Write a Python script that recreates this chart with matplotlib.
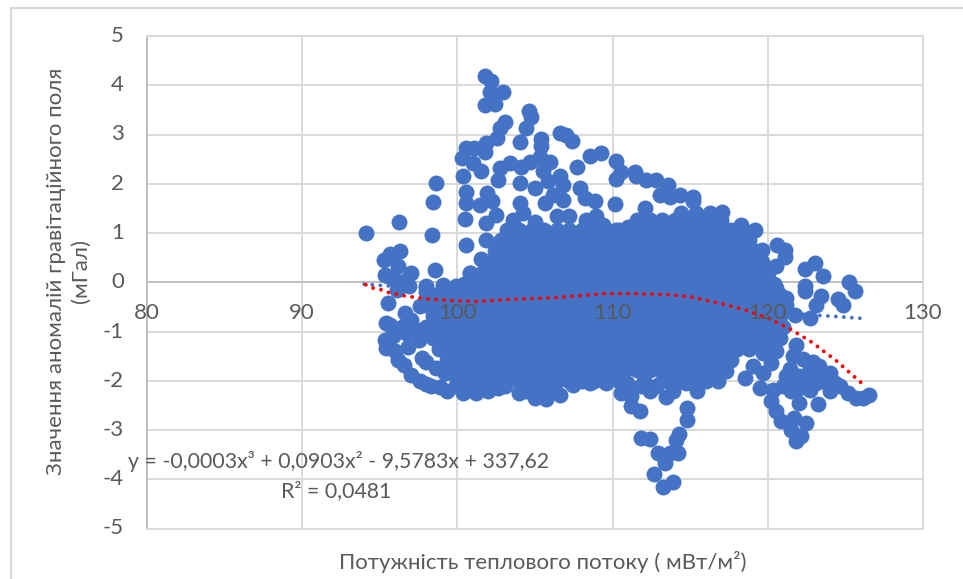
import matplotlib
matplotlib.use('Agg')
import matplotlib.pyplot as plt
from matplotlib.lines import Line2D

plt.rcParams['font.family'] = ['Lato', 'Open Sans', 'DejaVu Sans']

BLUE = '#4472c4'
TEXT = '#595959'
GRID = '#d9d9d9'

# sparse points above the main cloud
top_pts = [
    (94.1, 1.0), (101.81, 4.18), (102.19, 4.09), (102.94, 3.86), (102.09, 3.86), (101.76, 3.60), (102.41, 3.61),
    (104.62, 3.47), (104.77, 3.36), (104.45, 3.13), (103.09, 3.26), (102.73, 3.13), (102.52, 2.92),
    (101.87, 2.82), (101.81, 2.65), (105.41, 2.90), (105.37, 2.76), (104.02, 2.84), (106.6, 3.03),
    (107.0, 3.0), (107.41, 2.87), (100.58, 2.72), (101.1, 2.73), (100.3, 2.53), (100.33, 2.15),
    (101.0, 2.42), (101.55, 2.25), (102.73, 2.31), (102.62, 2.08), (103.37, 2.42), (104.12, 2.35),
    (104.66, 2.45), (105.3, 2.55), (105.95, 2.45), (105.52, 2.25), (106.6, 2.16), (104.02, 2.01),
    (104.98, 1.91), (105.84, 2.05), (106.8, 1.98), (107.73, 2.34), (108.52, 2.57), (109.27, 2.62),
    (110.2, 2.47), (110.52, 2.23), (110.2, 2.09), (111.42, 2.23), (98.61, 2.02), (98.46, 1.63),
    (100.54, 1.84), (100.54, 1.61), (101.91, 1.82), (102.26, 1.64), (101.44, 1.57), (100.52, 1.29),
    (102.5, 1.37), (101.87, 1.21), (104.02, 1.6), (107.88, 1.91), (108.2, 1.71), (108.85, 1.64),
    (106.8, 1.67), (105.63, 1.6), (106.16, 1.77), (110.13, 1.59), (104.23, 1.4), (96.21, 1.23),
    (98.37, 0.96), (100.58, 0.75), (101.83, 0.86), (96.29, 0.64), (95.65, 0.58), (95.28, 0.46),
    (96.18, 0.32), (97.04, 0.19), (95.33, 0.15), (98.55, 0.25), (101.55, 0.47), (100.8, 0.19),
    (95.97, 0.05), (96.72, 0.05), (103.6, 1.27), (105.0, 1.23), (106.4, 1.34), (107.2, 1.34),
    (108.3, 1.27), (108.95, 1.34), (109.4, 1.17), (110.2, 1.06), (111.0, 1.13), (111.53, 2.15),
    (112.17, 2.08), (112.82, 2.08), (113.57, 1.98), (113.03, 1.77), (113.68, 1.74), (114.32, 1.77),
    (115.18, 1.74), (115.18, 1.64), (112.07, 1.5), (114.43, 1.40), (115.39, 1.40), (116.25, 1.40),
    (117.07, 1.42), (118.29, 1.17), (119.15, 1.07), (118.6, 0.93),
]

# right edge, upper side
right_pts = [
    (119.62, 0.65), (120.6, 0.76), (121.08, 0.66), (121.14, 0.51), (120.54, 0.32), (122.37, 0.27),
    (123.07, 0.39), (123.55, 0.13), (125.2, 0.0), (125.65, -0.17), (122.37, -0.08), (122.37, -0.17),
    (123.44, -0.27), (123.12, -0.47), (124.51, -0.35), (124.83, -0.46), (122.69, -0.73), (121.77, -0.66),
    (121.19, -0.32), (120.54, -0.12),
]

# tail running down to the right and the pocket under it
tail_pts = [
    (126.55, -2.28), (126.12, -2.35), (125.69, -2.35), (125.16, -2.25), (124.62, -2.11), (123.98, -1.84),
    (123.33, -1.71), (122.9, -1.61), (121.83, -1.27), (121.61, -1.5), (121.4, -1.77), (121.19, -1.91),
    (122.04, -1.9), (123.1, -2.05), (123.98, -2.21), (122.69, -2.18), (123.22, -2.47), (122.04, -2.46),
    (120.97, -2.11), (120.33, -2.18), (119.47, -2.15), (120.22, -2.42), (120.54, -2.62), (120.86, -2.82),
    (121.72, -2.75), (122.47, -2.86), (121.51, -2.99), (122.15, -3.13), (121.83, -3.23), (118.5, -1.94),
    (119.04, -1.71), (119.68, -1.84), (120.22, -1.64), (120.54, -1.40), (119.68, -1.44), (122.3, -1.55),
    (122.5, -1.9), (123.5, -2.0), (124.3, -2.05), (122.0, -2.15), (121.5, -2.2), (122.7, -1.75),
    (123.3, -1.95), (124.0, -2.0), (121.3, -2.1),
]

# lower edge of the cloud and the group near -3..-4
bottom_pts = [
    (117.32, -1.81), (116.79, -2.01), (115.46, -2.21), (113.89, -2.21), (113.46, -2.32), (112.39, -2.21),
    (111.74, -2.62), (111.21, -2.52), (114.8, -2.55), (114.8, -2.79), (114.28, -3.09), (114.1, -3.2),
    (111.85, -3.16), (112.43, -3.18), (112.92, -3.46), (113.68, -3.46), (114.2, -3.46), (112.65, -3.9),
    (113.27, -4.15), (113.87, -4.06), (113.35, -3.67), (95.54, 0.12), (95.54, -0.42), (95.43, -0.83),
    (95.33, -1.17), (95.43, -1.34), (96.19, -1.57), (96.83, -1.31), (97.69, -1.54), (97.04, -1.88),
    (97.58, -2.01), (98.33, -2.11), (99.3, -2.21), (100.37, -2.25), (101.23, -2.25), (101.98, -2.21),
    (103.05, -2.11), (103.98, -2.25), (104.98, -2.35), (105.73, -2.38), (106.59, -2.28), (107.45, -2.08),
    (108.52, -2.05), (109.6, -2.05), (110.56, -2.25), (111.2, -2.3), (112.8, -2.1), (114.7, -2.05),
    (98.0, -0.08), (99.08, -0.05), (99.94, -0.08), (95.9, -0.95), (104.4, -2.2), (105.4, -2.2),
    (106.1, -2.2), (100.8, -2.15), (102.6, -2.15), (111.8, -2.1), (110.9, -2.05), (113.2, -2.0),
]

# left side of the cloud, where the white strips run between the points
left_pts = [
    (96.08, -0.15), (96.9, -0.08), (97.58, -0.49), (98.0, -0.2), (96.6, -0.63), (97.04, -0.76),
    (95.65, -0.86), (96.4, -0.9), (97.4, -0.96), (95.86, -1.1), (96.7, -1.03), (95.97, -1.4),
    (98.65, -1.74), (97.5, -1.17), (98.2, -1.05), (98.0, -1.62), (99.2, -1.85), (96.55, -1.68),
    (98.9, -2.12), (98.0, -2.06), (99.9, -2.1),
]

# dense body of the cloud: y of each band, then its x values
core_y = [1.27, 1.07, 0.85, 0.63, 0.41, 0.19, -0.03, -0.25, -0.47, -0.69, -0.91, -1.13, -1.35, -1.57, -1.79, -2.01]
core_x = [
    [111.6, 112.4, 113.2, 114.0, 114.8, 115.6, 116.4, 117.0],
    [103.2, 104.0, 104.8, 105.6, 106.4, 107.2, 108.0, 108.8, 109.6, 110.4, 111.2, 112.0, 112.8, 113.6, 114.4, 115.2,
     116.0, 116.8, 117.6, 118.4],
    [102.8, 103.6, 104.4, 105.2, 106.0, 106.8, 107.6, 108.4, 109.2, 110.0, 110.8, 111.6, 112.4, 113.2, 114.0, 114.8,
     115.6, 116.4, 117.2, 118.0, 118.8],
    [102.4, 103.2, 104.0, 104.8, 105.6, 106.4, 107.2, 108.0, 108.8, 109.6, 110.4, 111.2, 112.0, 112.8, 113.6, 114.4,
     115.2, 116.0, 116.8, 117.6, 118.4, 119.2],
    [102.0, 102.8, 103.6, 104.4, 105.2, 106.0, 106.8, 107.6, 108.4, 109.2, 110.0, 110.8, 111.6, 112.4, 113.2, 114.0,
     114.8, 115.6, 116.4, 117.2, 118.0, 118.8, 119.6],
    [100.8, 101.6, 102.4, 103.2, 104.0, 104.8, 105.6, 106.4, 107.2, 108.0, 108.8, 109.6, 110.4, 111.2, 112.0, 112.8,
     113.6, 114.4, 115.2, 116.0, 116.8, 117.6, 118.4, 119.2, 120.0],
    [100.4, 101.2, 102.0, 102.8, 103.6, 104.4, 105.2, 106.0, 106.8, 107.6, 108.4, 109.2, 110.0, 110.8, 111.6, 112.4,
     113.2, 114.0, 114.8, 115.6, 116.4, 117.2, 118.0, 118.8, 119.6, 120.4],
    [98.4, 99.2, 100.0, 100.8, 101.6, 102.4, 103.2, 104.0, 104.8, 105.6, 106.4, 107.2, 108.0, 108.8, 109.6, 110.4,
     111.2, 112.0, 112.8, 113.6, 114.4, 115.2, 116.0, 116.8, 117.6, 118.4, 119.2, 120.0, 120.8],
    [98.0, 98.8, 99.6, 100.4, 101.2, 102.0, 102.8, 103.6, 104.4, 105.2, 106.0, 106.8, 107.6, 108.4, 109.2, 110.0,
     110.8, 111.6, 112.4, 113.2, 114.0, 114.8, 115.6, 116.4, 117.2, 118.0, 118.8, 119.6, 120.4, 121.2],
    [98.4, 99.2, 100.0, 100.8, 101.6, 102.4, 103.2, 104.0, 104.8, 105.6, 106.4, 107.2, 108.0, 108.8, 109.6, 110.4,
     111.2, 112.0, 112.8, 113.6, 114.4, 115.2, 116.0, 116.8, 117.6, 118.4, 119.2, 120.0, 120.8],
    [98.0, 98.8, 99.6, 100.4, 101.2, 102.0, 102.8, 103.6, 104.4, 105.2, 106.0, 106.8, 107.6, 108.4, 109.2, 110.0,
     110.8, 111.6, 112.4, 113.2, 114.0, 114.8, 115.6, 116.4, 117.2, 118.0, 118.8, 119.6, 120.4, 121.0],
    [98.4, 99.2, 100.0, 100.8, 101.6, 102.4, 103.2, 104.0, 104.8, 105.6, 106.4, 107.2, 108.0, 108.8, 109.6, 110.4,
     111.2, 112.0, 112.8, 113.6, 114.4, 115.2, 116.0, 116.8, 117.6, 118.4, 119.2, 120.0, 120.8],
    [98.8, 99.6, 100.4, 101.2, 102.0, 102.8, 103.6, 104.4, 105.2, 106.0, 106.8, 107.6, 108.4, 109.2, 110.0, 110.8,
     111.6, 112.4, 113.2, 114.0, 114.8, 115.6, 116.4, 117.2, 118.0, 118.8, 119.6, 120.4],
    [99.3, 100.0, 100.8, 101.6, 102.4, 103.2, 104.0, 104.8, 105.6, 106.4, 107.2, 108.0, 108.8, 109.6, 110.4, 111.2,
     112.0, 112.8, 113.6, 114.4, 115.2, 116.0, 116.8, 117.6],
    [99.8, 100.4, 101.2, 102.0, 102.8, 103.6, 104.4, 105.2, 106.0, 106.8, 107.6, 108.4, 109.2, 110.0, 110.8, 111.6,
     112.4, 113.2, 114.0, 114.8, 115.6, 116.4],
    [100.0, 100.8, 101.6, 102.4, 103.2, 104.0, 104.8, 105.6, 106.4, 107.2, 108.0, 108.8, 109.6, 110.4, 112.0, 113.6,
     114.4, 115.4, 116.0],
]

# blue dotted trend, only its ends show past the cloud
linear_x = [94.0, 126.4]
linear_y = [-0.04, -0.74]

# red dotted polynomial trend
poly_x = [94.1, 94.58, 95.07, 95.58, 96.5, 97.58, 98.1, 99.5, 101.2, 103.37, 106.4, 109.5, 111.53,
          113.57, 115.07, 117.1, 118.6, 120.1, 121.5, 122.8, 124.4, 126.34]
poly_y = [-0.05, -0.12, -0.15, -0.21, -0.27, -0.32, -0.34, -0.37, -0.39, -0.35, -0.31, -0.23, -0.233,
          -0.25, -0.30, -0.44, -0.57, -0.74, -0.96, -1.21, -1.59, -2.13]

x_ticks = [80, 90, 100, 110, 120, 130]
y_ticks = [-5, -4, -3, -2, -1, 0, 1, 2, 3, 4, 5]

fig = plt.figure(figsize=(9.63, 5.79), dpi=100)

# chart frame, only its left and top edges are inside the crop
fig.add_artist(Line2D([11 / 963, 11 / 963], [0, 1 - 7.5 / 579], color=GRID, lw=1.6))
fig.add_artist(Line2D([11 / 963, 1], [1 - 7.5 / 579, 1 - 7.5 / 579], color=GRID, lw=1.6))

ax = fig.add_axes([147 / 963, 1 - 528.5 / 579, 776 / 963, 492.5 / 579])

all_x = [p[0] for p in top_pts + right_pts + tail_pts + bottom_pts + left_pts]
all_y = [p[1] for p in top_pts + right_pts + tail_pts + bottom_pts + left_pts]
for y, xs in zip(core_y, core_x):
    all_x += xs
    all_y += [y] * len(xs)
ax.scatter(all_x, all_y, s=132, c=BLUE, linewidths=0, zorder=3)

dots = (0, (0.01, 2.05))
ax.plot(linear_x, linear_y, color=BLUE, lw=2.8, ls=dots, dash_capstyle='round', zorder=4)
ax.plot(poly_x, poly_y, color='#ff0000', lw=2.8, ls=dots, dash_capstyle='round', zorder=5)

ax.set_xlim(80, 130)
ax.set_ylim(-5, 5)
ax.set_xticks(x_ticks)
ax.set_yticks(y_ticks)
ax.set_xticklabels([])
ax.set_yticklabels([])
ax.tick_params(length=0)
ax.grid(True, color=GRID, lw=1.4)
ax.set_axisbelow(True)
for s in ax.spines.values():
    s.set_color(GRID)
    s.set_linewidth(1.4)
ax.spines['left'].set_color('#bfbfbf')
ax.axhline(0, color='#bfbfbf', lw=1.4, zorder=1)

# tick labels sit on top of the points, so they are plain text above the scatter
for t in x_ticks:
    ax.annotate(str(t), (t, 0), xytext=(0, -31), textcoords='offset pixels', ha='center', va='center',
                fontsize=16, color=TEXT, zorder=6)
for t in y_ticks:
    ax.annotate(str(t), (80, t), xytext=(-23, 0), textcoords='offset pixels', ha='right', va='center',
                fontsize=16, color=TEXT, annotation_clip=False, zorder=6)

fig.text(338 / 963, 1 - 462 / 579, 'y = -0,0003x³ + 0,0903x² - 9,5783x + 337,62', ha='center', va='center',
         fontsize=15.3, color=TEXT, zorder=7)
fig.text(336 / 963, 1 - 491 / 579, 'R² = 0,0481', ha='center', va='center', fontsize=15.3, color=TEXT, zorder=7)
fig.text(543 / 963, 1 - 562 / 579, 'Потужність теплового потоку ( мВт/м²)', ha='center', va='center',
         fontsize=16, color=TEXT)
fig.text(68 / 963, 1 - 271 / 579, 'Значення аномалій гравітаційного поля\n(мГал)', ha='center', va='center',
         rotation=90, fontsize=16, color=TEXT, linespacing=1.3)

fig.savefig('out.png', dpi=100)
